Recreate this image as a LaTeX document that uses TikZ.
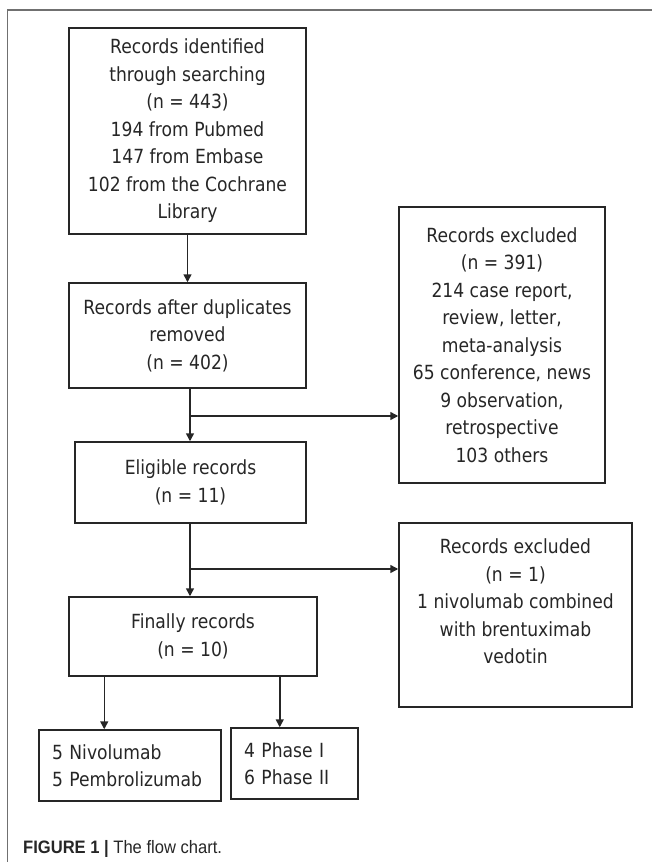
\documentclass[tikz,border=0pt]{standalone}
\usepackage{fontspec}
\setmainfont{DejaVu Sans}[FakeStretch=0.88]
\newfontfamily\capfont{Liberation Sans}[FakeStretch=0.92]
\usetikzlibrary{arrows.meta}

\definecolor{boxgray}{HTML}{262626}
\definecolor{framegray}{HTML}{707070}

\tikzstyle{process} = [rectangle, align = center, inner sep = 0pt,
	line width = 1.5pt, draw = boxgray, text = boxgray]
\tikzstyle{listbox} = [rectangle, align = left, inner xsep = 13pt, inner ysep = 0pt,
	line width = 1.5pt, draw = boxgray, text = boxgray]
\tikzstyle{arrow} = [line width = 1.5pt, draw = boxgray,
	-{Triangle[length = 8pt, width = 8pt]}]

\begin{document}
\begin{tikzpicture}[x = 1pt, y = -1pt, font = \fontsize{19.5}{27.5}\selectfont]

\useasboundingbox (0,0) rectangle (652,862);

% panel frame
\draw [framegray, line width = 1.2pt] (652,10) -- (7.5,10) -- (7.5,862);

% main column
\node (R0) [process, minimum width = 237pt, minimum height = 206pt] at (187.5,131)
	{Records identified\\through searching\\(n = 443)\\194 from Pubmed\\147 from Embase\\102 from the Cochrane\\Library};
\node (R1) [process, minimum width = 237pt, minimum height = 105pt] at (187.5,335.5)
	{Records after duplicates\\removed\\(n = 402)};
\node (R2) [process, minimum width = 231pt, minimum height = 81pt] at (190.5,482.5)
	{Eligible records\\(n = 11)};
\node (R3) [process, minimum width = 248pt, minimum height = 79pt] at (193,636.5)
	{Finally records\\(n = 10)};

% excluded
\node (E0) [process, minimum width = 206pt, minimum height = 276pt] at (502,345)
	{Records excluded\\(n = 391)\\214 case report,\\review, letter,\\meta-analysis\\65 conference, news\\9 observation,\\retrospective\\103 others};
\node (E1) [process, minimum width = 233pt, minimum height = 184pt] at (515.5,615)
	{Records excluded\\(n = 1)\\1 nivolumab combined\\with brentuximab\\vedotin\\\mbox{}};

% split of the final records
\node (S0) [listbox, text width = 156pt, minimum height = 71pt] at (130,765.5)
	{5 Nivolumab\\5 Pembrolizumab};
\node (S1) [listbox, text width = 101pt, minimum height = 71pt] at (294.5,763.5)
	{4 Phase I\\6 Phase II};

\coordinate (b0) at (190,416);
\coordinate (b1) at (190,569);

\draw [arrow] (R0) -- (R1);
\draw [arrow] (R1.south -| b0) -- (R2.north -| b0);
\draw [arrow] (b0) -- (b0 -| E0.west);
\draw [arrow] (R2.south -| b1) -- (R3.north -| b1);
\draw [arrow] (b1) -- (b1 -| E1.west);
\draw [arrow] ([xshift = 36pt]R3.south west) -- ([xshift = 36pt]R3.south west |- S0.north);
\draw [arrow] ([xshift = -38pt]R3.south east) -- ([xshift = -38pt]R3.south east |- S1.north);

% caption
\node (cap) [anchor = base west, inner sep = 0pt, text = boxgray,
	font = \capfont\fontsize{18}{20}\selectfont] at (23,853)
	{\textbf{FIGURE 1 |} The flow chart.};

\end{tikzpicture}
\end{document}
